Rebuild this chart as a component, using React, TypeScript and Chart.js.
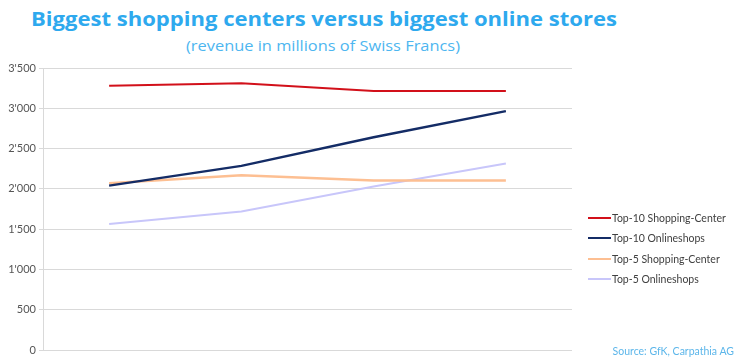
import React, { useEffect, useRef } from "react";
import { Chart, registerables } from "chart.js";

Chart.register(...registerables);

const categories = ["2014", "2015", "2016", "2017"];
const seriesNames = [
  "Top-10 Shopping-Center",
  "Top-10 Onlineshops",
  "Top-5 Shopping-Center",
  "Top-5 Onlineshops",
];
const top10Shopping = [3280, 3310, 3215, 3215];
const top10Online = [2040, 2285, 2640, 2965];
const top5Shopping = [2070, 2170, 2105, 2105];
const top5Online = [1565, 1720, 2030, 2315];
const seriesColors = ["#d2101a", "#142c66", "#fdbf92", "#c8c6fa"];
const seriesWidths = [2, 2.5, 2.5, 2];
const yTicks = [0, 500, 1000, 1500, 2000, 2500, 3000, 3500];

const titleText = "Biggest shopping centers versus biggest online stores";
const subtitleText = "(revenue in millions of Swiss Francs)";
const sourceText = "Source: GfK, Carpathia AG";

const fmt = (v: number) => {
  const s = String(Math.round(v));
  return s.replace(/\B(?=(\d{3})+(?!\d))/g, "'");
};

export default function App() {
  const ref = useRef<HTMLCanvasElement | null>(null);
  useEffect(() => {
    if (!ref.current) return;
    const values = [top10Shopping, top10Online, top5Shopping, top5Online];
    const chart = new Chart(ref.current, {
      type: "line",
      data: {
        labels: categories,
        datasets: values.map((d, i) => ({
          label: seriesNames[i],
          data: d,
          borderColor: seriesColors[i],
          backgroundColor: seriesColors[i],
          borderWidth: seriesWidths[i],
          pointRadius: 0,
          tension: 0,
          fill: false,
        })),
      },
      options: {
        animation: false,
        responsive: true,
        maintainAspectRatio: false,
        layout: { padding: { left: 0, right: 168, top: 68, bottom: 11 } },
        plugins: {
          legend: { display: false },
          title: { display: false },
          tooltip: { enabled: false },
        },
        scales: {
          x: {
            type: "category",
            offset: true,
            display: false,
          },
          y: {
            min: 0,
            max: 3500,
            afterFit: (s: any) => {
              s.width = 43;
            },
            afterBuildTicks: (s: any) => {
              s.ticks = yTicks.map((v) => ({ value: v }));
            },
            grid: {
              color: "#d9d9d9",
              lineWidth: 1,
              drawTicks: true,
              tickLength: 4,
            },
            border: { display: true, color: "#d9d9d9", width: 1 },
            ticks: {
              padding: 3,
              color: "#555555",
              font: { family: "Lato", size: 11 },
              callback: (v: any) => fmt(Number(v)),
            },
          },
        },
      },
    });
    return () => chart.destroy();
  }, []);

  return (
    <div
      style={{
        position: "absolute",
        left: 0,
        top: 0,
        width: 740,
        height: 361,
        background: "#ffffff",
        overflow: "hidden",
      }}
    >
      <svg
        width={740}
        height={60}
        style={{ position: "absolute", left: 0, top: 0 }}
      >
        <text
          x={31}
          y={26}
          fontFamily="Open Sans"
          fontWeight={700}
          fontSize={20}
          fill="#2ea9ee"
          textLength={586}
          lengthAdjust="spacingAndGlyphs"
        >
          {titleText}
        </text>
        <text
          x={186}
          y={51}
          fontFamily="Open Sans"
          fontWeight={400}
          fontSize={15}
          fill="#4db6f0"
          textLength={274}
          lengthAdjust="spacingAndGlyphs"
        >
          {subtitleText}
        </text>
      </svg>
      <div
        style={{
          position: "absolute",
          left: 0,
          top: 0,
          width: 740,
          height: 361,
        }}
      >
        <canvas ref={ref} />
      </div>
      {seriesNames.map((n, i) => (
        <div
          key={n}
          style={{
            position: "absolute",
            left: 588,
            top: 218 + i * 20.3 - 8,
            height: 16,
            display: "flex",
            alignItems: "center",
            whiteSpace: "nowrap",
          }}
        >
          <div
            style={{
              width: 23,
              height: 2,
              background: seriesColors[i],
              marginRight: 1,
            }}
          />
          <span
            style={{
              fontFamily: "Lato",
              fontSize: 10.5,
              color: "#404040",
            }}
          >
            {n}
          </span>
        </div>
      ))}
      <div
        style={{
          position: "absolute",
          right: 6,
          top: 343,
          height: 16,
          lineHeight: "16px",
          fontFamily: "Lato",
          fontSize: 10.5,
          color: "#5cb6ea",
          whiteSpace: "nowrap",
        }}
      >
        {sourceText}
      </div>
    </div>
  );
}
